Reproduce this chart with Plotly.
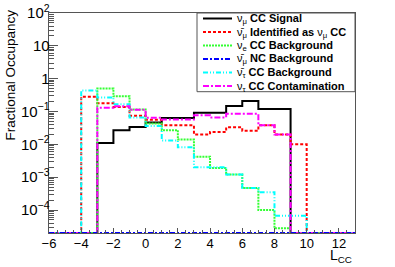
import numpy as np
import plotly.graph_objects as go

# Bin edges from -6 to 13, width 1 (19 bins)
edges = list(range(-6, 14))

# Fractional occupancy per bin (0 = empty bin)
signal = [0, 0, 0, 0.011, 0.027, 0.034, 0.046, 0.064, 0.064, 0.091, 0.091, 0.148, 0.21, 0.12, 0.12, 0, 0, 0, 0]
numubar_id = [0, 0, 0.28, 0.18, 0.138, 0.075, 0.056, 0.038, 0.038, 0.020, 0.024, 0.033, 0.026, 0.038, 0.020, 0.010, 0, 0, 0]
nue_cc = [0, 0, 0, 0.50, 0.29, 0.115, 0.043, 0.027, 0.014, 0.0042, 0.0019, 0.0012, 0.00047, 0.0001, 0.000028, 0, 0, 0, 0]
numubar_nc = [0] * 19
nutaubar_cc = [0, 0, 0.44, 0.265, 0.166, 0.066, 0.036, 0.013, 0.0081, 0.002, 0.002, 0.0012, 0.00047, 0.00035, 0.000067, 0.000067, 0, 0, 0]
nutau_cc = [0, 0, 0, 0.13, 0.145, 0.113, 0.065, 0.057, 0.057, 0.077, 0.066, 0.085, 0.085, 0.038, 0.020, 0, 0, 0, 0]

labels = [
    "ν<sub>μ</sub> <b>CC Signal</b>",
    "ν\u0304<sub>μ</sub> <b>Identified as</b> ν<sub>μ</sub> <b>CC</b>",
    "ν<sub>e</sub> <b>CC Background</b>",
    "ν\u0304<sub>μ</sub> <b>NC Background</b>",
    "ν\u0304<sub>τ</sub> <b>CC Background</b>",
    "ν<sub>τ</sub> <b>CC Contamination</b>",
]
series = [signal, numubar_id, nue_cc, numubar_nc, nutaubar_cc, nutau_cc]
colors = ["#000000", "#ff0000", "#33ff33", "#0000ff", "#00ffff", "#ff00ff"]
dashes = ["solid", "3px,2px", "2px,1px", "5px,2px,2px,2px", "5px,2px,1px,2px,1px,2px", "6px,2px,2px,2px"]

YMIN = 2e-5
YMAX = 100

fig = go.Figure()
order = [0, 1, 2, 4, 5, 3]
for i in order:
    v = np.array(series[i], dtype=float)
    v = np.where(v > 0, v, YMIN)
    x = edges
    y = list(v) + [v[-1]]
    fig.add_trace(go.Scatter(
        x=x, y=y, mode="lines", line=dict(color=colors[i], width=2, dash=dashes[i], shape="hv"),
        showlegend=False, hoverinfo="skip"))

axcol = "#555555"
fig.update_xaxes(range=[-6, 13], dtick=2, tick0=0, ticks="inside", ticklen=5, tickcolor=axcol,
                 minor=dict(ticks="inside", ticklen=3, dtick=0.5, tickcolor=axcol),
                 showline=True, linecolor=axcol, linewidth=1, mirror=True,
                 showgrid=False, zeroline=False, automargin=False, ticklabelstandoff=-2,
                 tickfont=dict(family="Liberation Sans", size=13, color="black"))
fig.update_yaxes(type="log", range=[np.log10(YMIN), np.log10(YMAX)], dtick=1, exponentformat="power",
                 ticks="inside", ticklen=9, tickcolor=axcol,
                 minor=dict(ticks="inside", ticklen=5, dtick="D1", tickcolor=axcol),
                 showline=True, linecolor=axcol, linewidth=1, mirror=True,
                 showgrid=False, zeroline=False, automargin=False, ticklabelstandoff=-4,
                 tickfont=dict(family="Liberation Sans", size=12, color="black"))

# Legend (manual, ROOT-like box)
W, H = 395, 267
ml, mr, mt, mb = 49, 40, 13, 34
pw, ph = W - ml - mr, H - mt - mb
def px(x):
    return (x - ml) / pw
def py(y):
    return (H - mb - y) / ph

shapes = [dict(type="rect", xref="paper", yref="paper", x0=px(197), x1=px(355), y0=py(91.7), y1=py(13),
               line=dict(color=axcol, width=1), fillcolor="white", layer="above")]
annotations = []
rows = [18.5, 32, 45.5, 59, 72.5, 86]
for i, (lab, ry) in enumerate(zip(labels, rows)):
    shapes.append(dict(type="line", xref="paper", yref="paper", x0=px(203), x1=px(232), y0=py(ry), y1=py(ry),
                       line=dict(color=colors[i], width=2, dash=dashes[i]), layer="above"))
    annotations.append(dict(text=lab, xref="paper", yref="paper", x=px(235), y=py(ry + 0.5), xanchor="left",
                            yanchor="middle", showarrow=False,
                            font=dict(family="Liberation Sans", size=11, color="black")))

annotations.append(dict(text="Fractional Occupancy", xref="paper", yref="paper", x=px(10), y=py(8),
                        xanchor="center", yanchor="top", textangle=-90, showarrow=False,
                        font=dict(family="Liberation Sans", size=13.5, color="black")))
annotations.append(dict(text="L<sub>CC</sub>", xref="paper", yref="paper", x=px(354), y=py(267),
                        xanchor="right", yanchor="bottom", showarrow=False,
                        font=dict(family="Liberation Sans", size=14, color="black")))

fig.update_layout(width=W, height=H, margin=dict(l=ml, r=mr, t=mt, b=mb),
                  paper_bgcolor="white", plot_bgcolor="white",
                  shapes=shapes, annotations=annotations, showlegend=False)
fig.write_html("out.html", config={"displayModeBar": False},
               post_script="document.body.style.margin='0';document.body.style.overflow='hidden';")
